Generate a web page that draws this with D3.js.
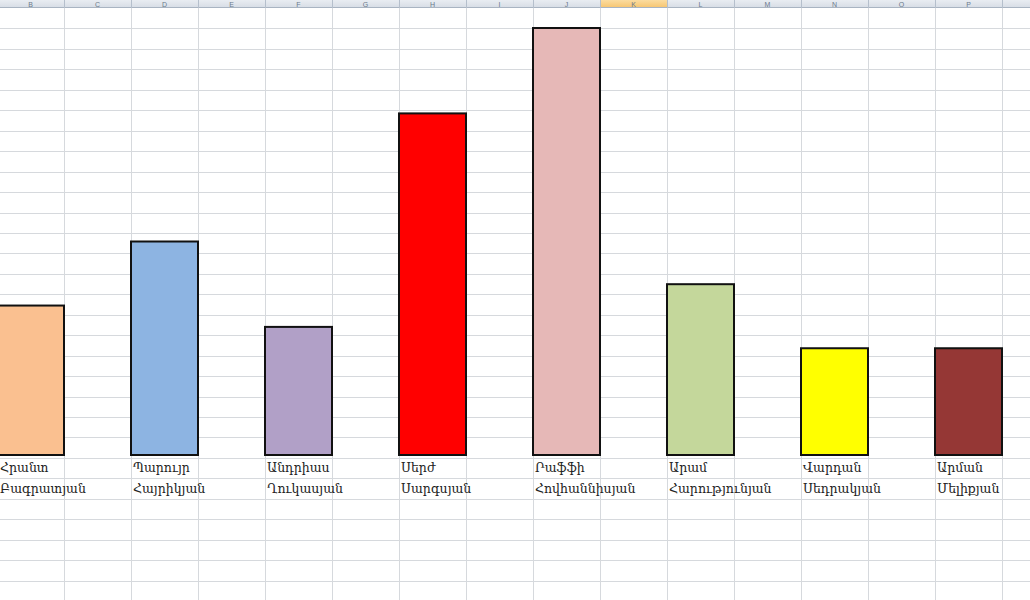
<!DOCTYPE html>
<html><head><meta charset="utf-8">
<script src="https://cdn.jsdelivr.net/npm/d3@7/dist/d3.min.js"></script>
<style>html,body{margin:0;padding:0;background:#fff;overflow:hidden}</style>
</head><body>
<svg id="c" width="1030" height="600"></svg>
<script>
const firstNames = ["Հրանտ","Պարույր","Անդրիաս","Սերժ","Րաֆֆի","Արամ","Վարդան","Արման"];
const lastNames  = ["Բագրատյան","Հայրիկյան","Ղուկասյան","Սարգսյան","Հովհաննիսյան","Հարությունյան","Սեդրակյան","Մելիքյան"];
const values     = [7, 10, 6, 16, 20, 8, 5, 5];
const colors     = ["#FAC090","#8DB4E2","#B1A0C7","#FF0000","#E6B8B7","#C4D79B","#FFFF00","#953735"];
const columnLetters = ["B","C","D","E","F","G","H","I","J","K","L","M","N","O","P"];

const svg = d3.select("#c");
const W = 1030, H = 600;

// spreadsheet background
const colX = d3.range(0, 16).map(k => -3 + 67 * k);
const headerH = 8, rowH = 20.45;
const g0 = svg.append("g");
g0.selectAll("line.r").data(d3.range(1, 30)).join("line")
  .attr("x1", 0).attr("x2", W)
  .attr("y1", k => Math.round(headerH + rowH * k) + 0.5)
  .attr("y2", k => Math.round(headerH + rowH * k) + 0.5)
  .attr("stroke", "#d6d9dd").attr("stroke-width", 1);
g0.selectAll("line.c").data(colX.slice(1)).join("line")
  .attr("x1", d => d + 0.5).attr("x2", d => d + 0.5)
  .attr("y1", 0).attr("y2", H)
  .attr("stroke", "#d6d9dd").attr("stroke-width", 1);

// header strip
const defs = svg.append("defs");
const gr = defs.append("linearGradient").attr("id", "hg").attr("x1", 0).attr("y1", 0).attr("x2", 0).attr("y2", 1);
gr.append("stop").attr("offset", "0%").attr("stop-color", "#e9edf2");
gr.append("stop").attr("offset", "100%").attr("stop-color", "#d6dce5");
const go = defs.append("linearGradient").attr("id", "ho").attr("x1", 0).attr("y1", 0).attr("x2", 0).attr("y2", 1);
go.append("stop").attr("offset", "0%").attr("stop-color", "#fbdca0");
go.append("stop").attr("offset", "100%").attr("stop-color", "#f6c46e");
svg.append("rect").attr("x", 0).attr("y", 0).attr("width", W).attr("height", headerH).attr("fill", "url(#hg)");
svg.append("rect").attr("x", colX[9]).attr("y", 0).attr("width", 67).attr("height", headerH).attr("fill", "url(#ho)");
svg.append("line").attr("x1", 0).attr("x2", W).attr("y1", headerH - 0.5).attr("y2", headerH - 0.5).attr("stroke", "#a9b4c2");
svg.selectAll("line.hs").data(colX.slice(1)).join("line")
  .attr("x1", d => d + 0.5).attr("x2", d => d + 0.5).attr("y1", 0).attr("y2", headerH)
  .attr("stroke", "#b5bfcc");
svg.selectAll("text.hl").data(columnLetters).join("text")
  .attr("x", (d, i) => colX[i] + 33.5).attr("y", 7)
  .attr("text-anchor", "middle").attr("font-family", "Liberation Sans, Arial").attr("font-size", 7)
  .attr("fill", "#6b7a8c").text(d => d);

// chart
const idx = d3.range(values.length);
const x = d3.scaleBand().domain(idx).range([-36.5, -36.5 + 1072]).paddingInner(0.5).paddingOuter(0.25);
const y = d3.scaleLinear().domain([0, 20]).range([455, 28]);

svg.append("g").selectAll("rect").data(idx).join("rect")
  .attr("x", i => x(i)).attr("y", i => y(values[i]))
  .attr("width", x.bandwidth()).attr("height", i => y(0) - y(values[i]))
  .attr("fill", i => colors[i]).attr("stroke", "#111").attr("stroke-width", 2);

const lab = svg.append("g").attr("font-family", "DejaVu Serif, serif").attr("font-size", 12.5).attr("fill", "#222");
lab.selectAll("text.f").data(idx).join("text")
  .attr("x", i => Math.max(0, x(i) + 2)).attr("y", 472).text(i => firstNames[i]);
lab.selectAll("text.l").data(idx).join("text")
  .attr("x", i => Math.max(0, x(i) + 2)).attr("y", 493).text(i => lastNames[i]);
</script>
</body></html>
